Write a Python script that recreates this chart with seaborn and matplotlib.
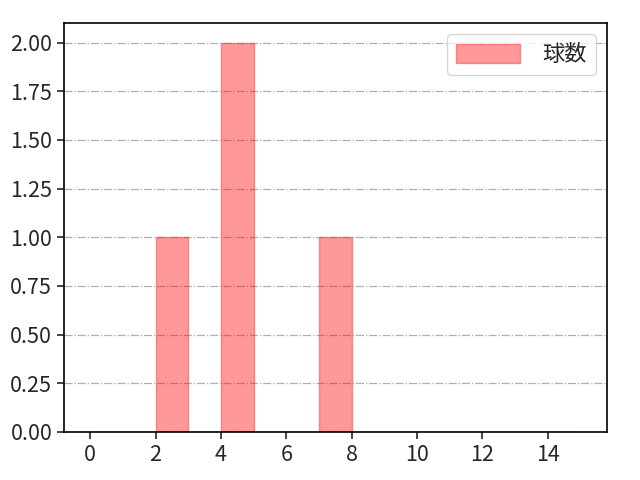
import matplotlib
matplotlib.use("Agg")
import matplotlib.pyplot as plt
import seaborn as sns
import pandas as pd

pitch_values = [2, 4, 4, 7]
bin_edges = list(range(0, 16))
label = "球数"

sns.set_style("ticks")
plt.rcParams['font.family'] = ['Noto Sans CJK JP', 'DejaVu Sans']

fig = plt.figure(figsize=(6.4, 4.8), dpi=100)
ax = fig.add_axes([0.1, 0.1, 0.848, 0.852])

df = pd.DataFrame({label: pitch_values})
sns.histplot(data=df, x=label, bins=bin_edges, ax=ax, color="red", alpha=0.4,
             edgecolor=(1, 0.2, 0.2, 0.5), linewidth=1.0, label=label, stat="count")

ax.set_xlim(-0.8, 15.8)
ax.set_ylim(0, 2.1)
ax.set_xticks(range(0, 16, 2))
ax.set_yticks([0, 0.25, 0.5, 0.75, 1.0, 1.25, 1.5, 1.75, 2.0])
ax.yaxis.set_major_formatter(matplotlib.ticker.FormatStrFormatter('%.2f'))
ax.set_xlabel("")
ax.set_ylabel("")
ax.grid(axis="y", linestyle="-.", color="#b0b0b0", linewidth=0.9)
ax.set_axisbelow(True)
ax.tick_params(labelsize=15.5, width=1.2, length=5)
for s in ax.spines.values():
    s.set_visible(True)
    s.set_color("black")
    s.set_linewidth(1.2)
ax.legend(loc="upper right", fontsize=16, handlelength=2.9, handleheight=0.9,
          handletextpad=1.0)

fig.savefig("out.png", dpi=100)
